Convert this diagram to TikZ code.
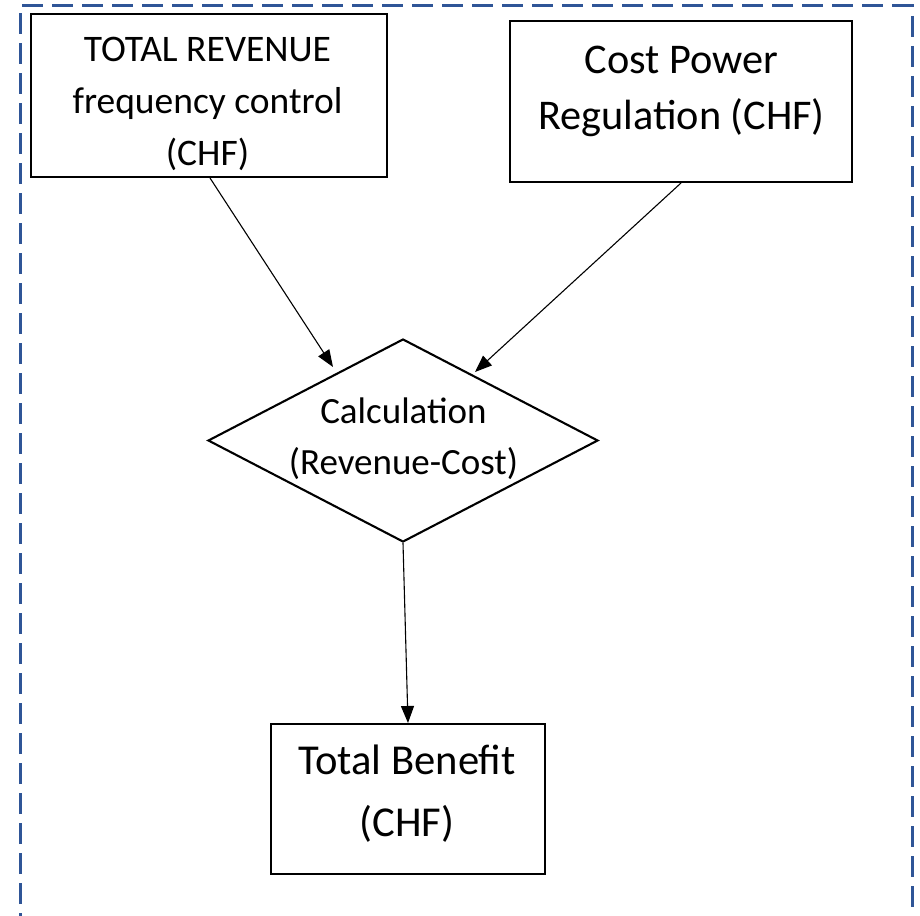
\documentclass[tikz,border=0pt]{standalone}
\usepackage{fontspec}
\setmainfont{Carlito}
\usetikzlibrary{shapes.geometric,arrows.meta,calc}
\definecolor{frameblue}{RGB}{47,85,151}
\begin{document}
\begin{tikzpicture}[x=1pt,y=-1pt,
  box/.style={draw=black, line width=2pt, rectangle, inner sep=0pt},
  txt/.style={align=center, inner sep=0pt, text=black},
  arr/.style={draw=black, line width=1.1pt, -{Triangle[length=17pt,width=13pt]}},
  frame/.style={draw=frameblue, line width=3pt, dash pattern=on 21pt off 9pt, dash phase=4pt}]
\useasboundingbox (0,0) rectangle (920,915);
\fill[white] (0,0) rectangle (920,915);
% dashed frame (open at the bottom)
\draw[frame] (20,930) -- (20,6) -- (912,6) -- (912,930);
% boxes
\node[box, minimum width=356pt, minimum height=163pt] (rev) at (209,95.5) {};
\node[txt, font=\fontsize{37.5}{52}\selectfont] (revt) at (207.5,104) {TOTAL REVENUE\\frequency control\\(CHF)};
\node[box, minimum width=342pt, minimum height=161pt] (cost) at (681,101.5) {};
\node[txt, font=\fontsize{42.3}{56}\selectfont] (costt) at (681.5,91) {Cost Power\\Regulation (CHF)};
\node[draw=black, line width=2.1pt, diamond, inner sep=0pt, minimum width=390pt, minimum height=203pt] (calc) at (403,440.5) {};
\node[txt, font=\fontsize{37}{51}\selectfont] (calct) at (403.5,438.5) {Calculation\\(Revenue-Cost)};
\node[box, minimum width=274pt, minimum height=150pt] (ben) at (408,799) {};
\node[txt, font=\fontsize{42.6}{62}\selectfont] (bent) at (407,794) {Total Benefit\\(CHF)};
% connectors
\coordinate (a1e) at (333,367);
\coordinate (a2e) at (475,372);
\draw[arr] ($(rev.south)+(1,0)$) -- (a1e);
\draw[arr] (cost.south) -- (a2e);
\draw[arr] (calc.south) -- (ben.north);
\end{tikzpicture}
\end{document}
